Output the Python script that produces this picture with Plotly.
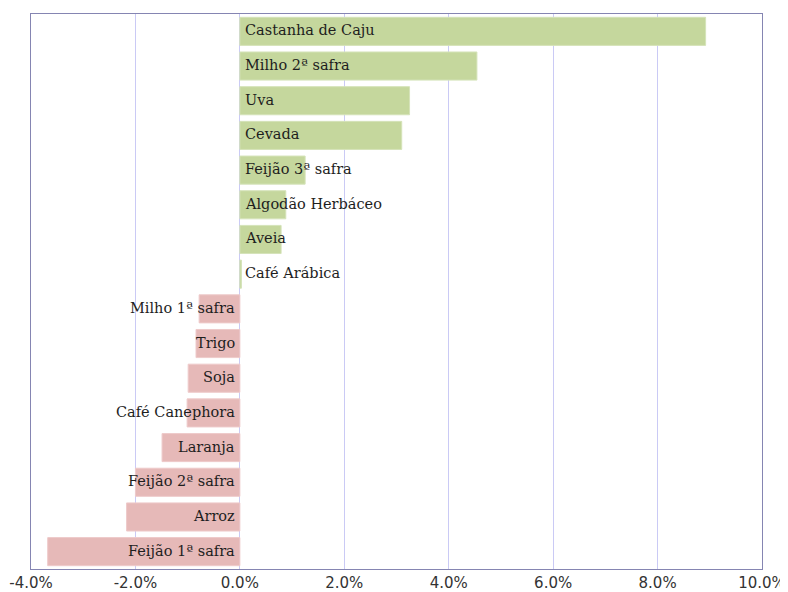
import plotly.graph_objects as go

categories = ["Castanha de Caju", "Milho 2ª safra", "Uva", "Cevada", "Feijão 3ª safra",
              "Algodão Herbáceo", "Aveia", "Café Arábica", "Milho 1ª safra", "Trigo",
              "Soja", "Café Canephora", "Laranja", "Feijão 2ª safra", "Arroz", "Feijão 1ª safra"]
values = [8.92, 4.54, 3.25, 3.10, 1.25, 0.88, 0.79, 0.03, -0.78, -0.84,
          -0.99, -1.01, -1.49, -2.00, -2.17, -3.68]
tick_vals = [-4, -2, 0, 2, 4, 6, 8, 10]
tick_text = ["-4.0%", "-2.0%", "0.0%", "2.0%", "4.0%", "6.0%", "8.0%", "10.0%"]

POS = "#C5D79D"
NEG = "#E6B9B8"
colors = [POS if v >= 0 else NEG for v in values]
edge = ["#D5E3B9" if v >= 0 else "#EECACA" for v in values]

fig = go.Figure()
fig.add_trace(go.Bar(
    y=categories, x=values, orientation="h",
    marker=dict(color=colors, line=dict(color=edge, width=1)),
    hoverinfo="skip", showlegend=False,
))

label_font = dict(family="DejaVu Serif", size=14.5, color="#1E1E1E")
for c, v in zip(categories, values):
    pos = v >= 0
    fig.add_annotation(
        x=0, y=c, xref="x", yref="y", text=c, showarrow=False,
        xanchor="left" if pos else "right", yanchor="middle",
        xshift=3 if pos else -3, yshift=1, font=label_font,
    )

# page body has an 8px margin, so the figure is placed at (8, 8)
fig.update_layout(
    width=780, height=592,
    margin=dict(l=23, r=26, t=6, b=31, autoexpand=False),
    paper_bgcolor="white", plot_bgcolor="white",
    bargap=0.19,
    xaxis=dict(
        range=[-4, 10], tickvals=tick_vals, ticktext=tick_text,
        showgrid=True, gridcolor="#CACAF5", gridwidth=1,
        zeroline=True, zerolinecolor="#CACAF5", zerolinewidth=1,
        showline=True, linecolor="#8585B2", linewidth=1, mirror=True,
        tickfont=dict(family="DejaVu Sans", size=15, color="#333333"),
        ticklabelstandoff=0, automargin=False,
        fixedrange=True,
    ),
    yaxis=dict(
        categoryorder="array", categoryarray=categories, autorange="reversed",
        showticklabels=False, showgrid=False, zeroline=False,
        showline=True, linecolor="#8585B2", linewidth=1, mirror=True,
        automargin=False, fixedrange=True,
    ),
)

fig.write_html("out.html")
